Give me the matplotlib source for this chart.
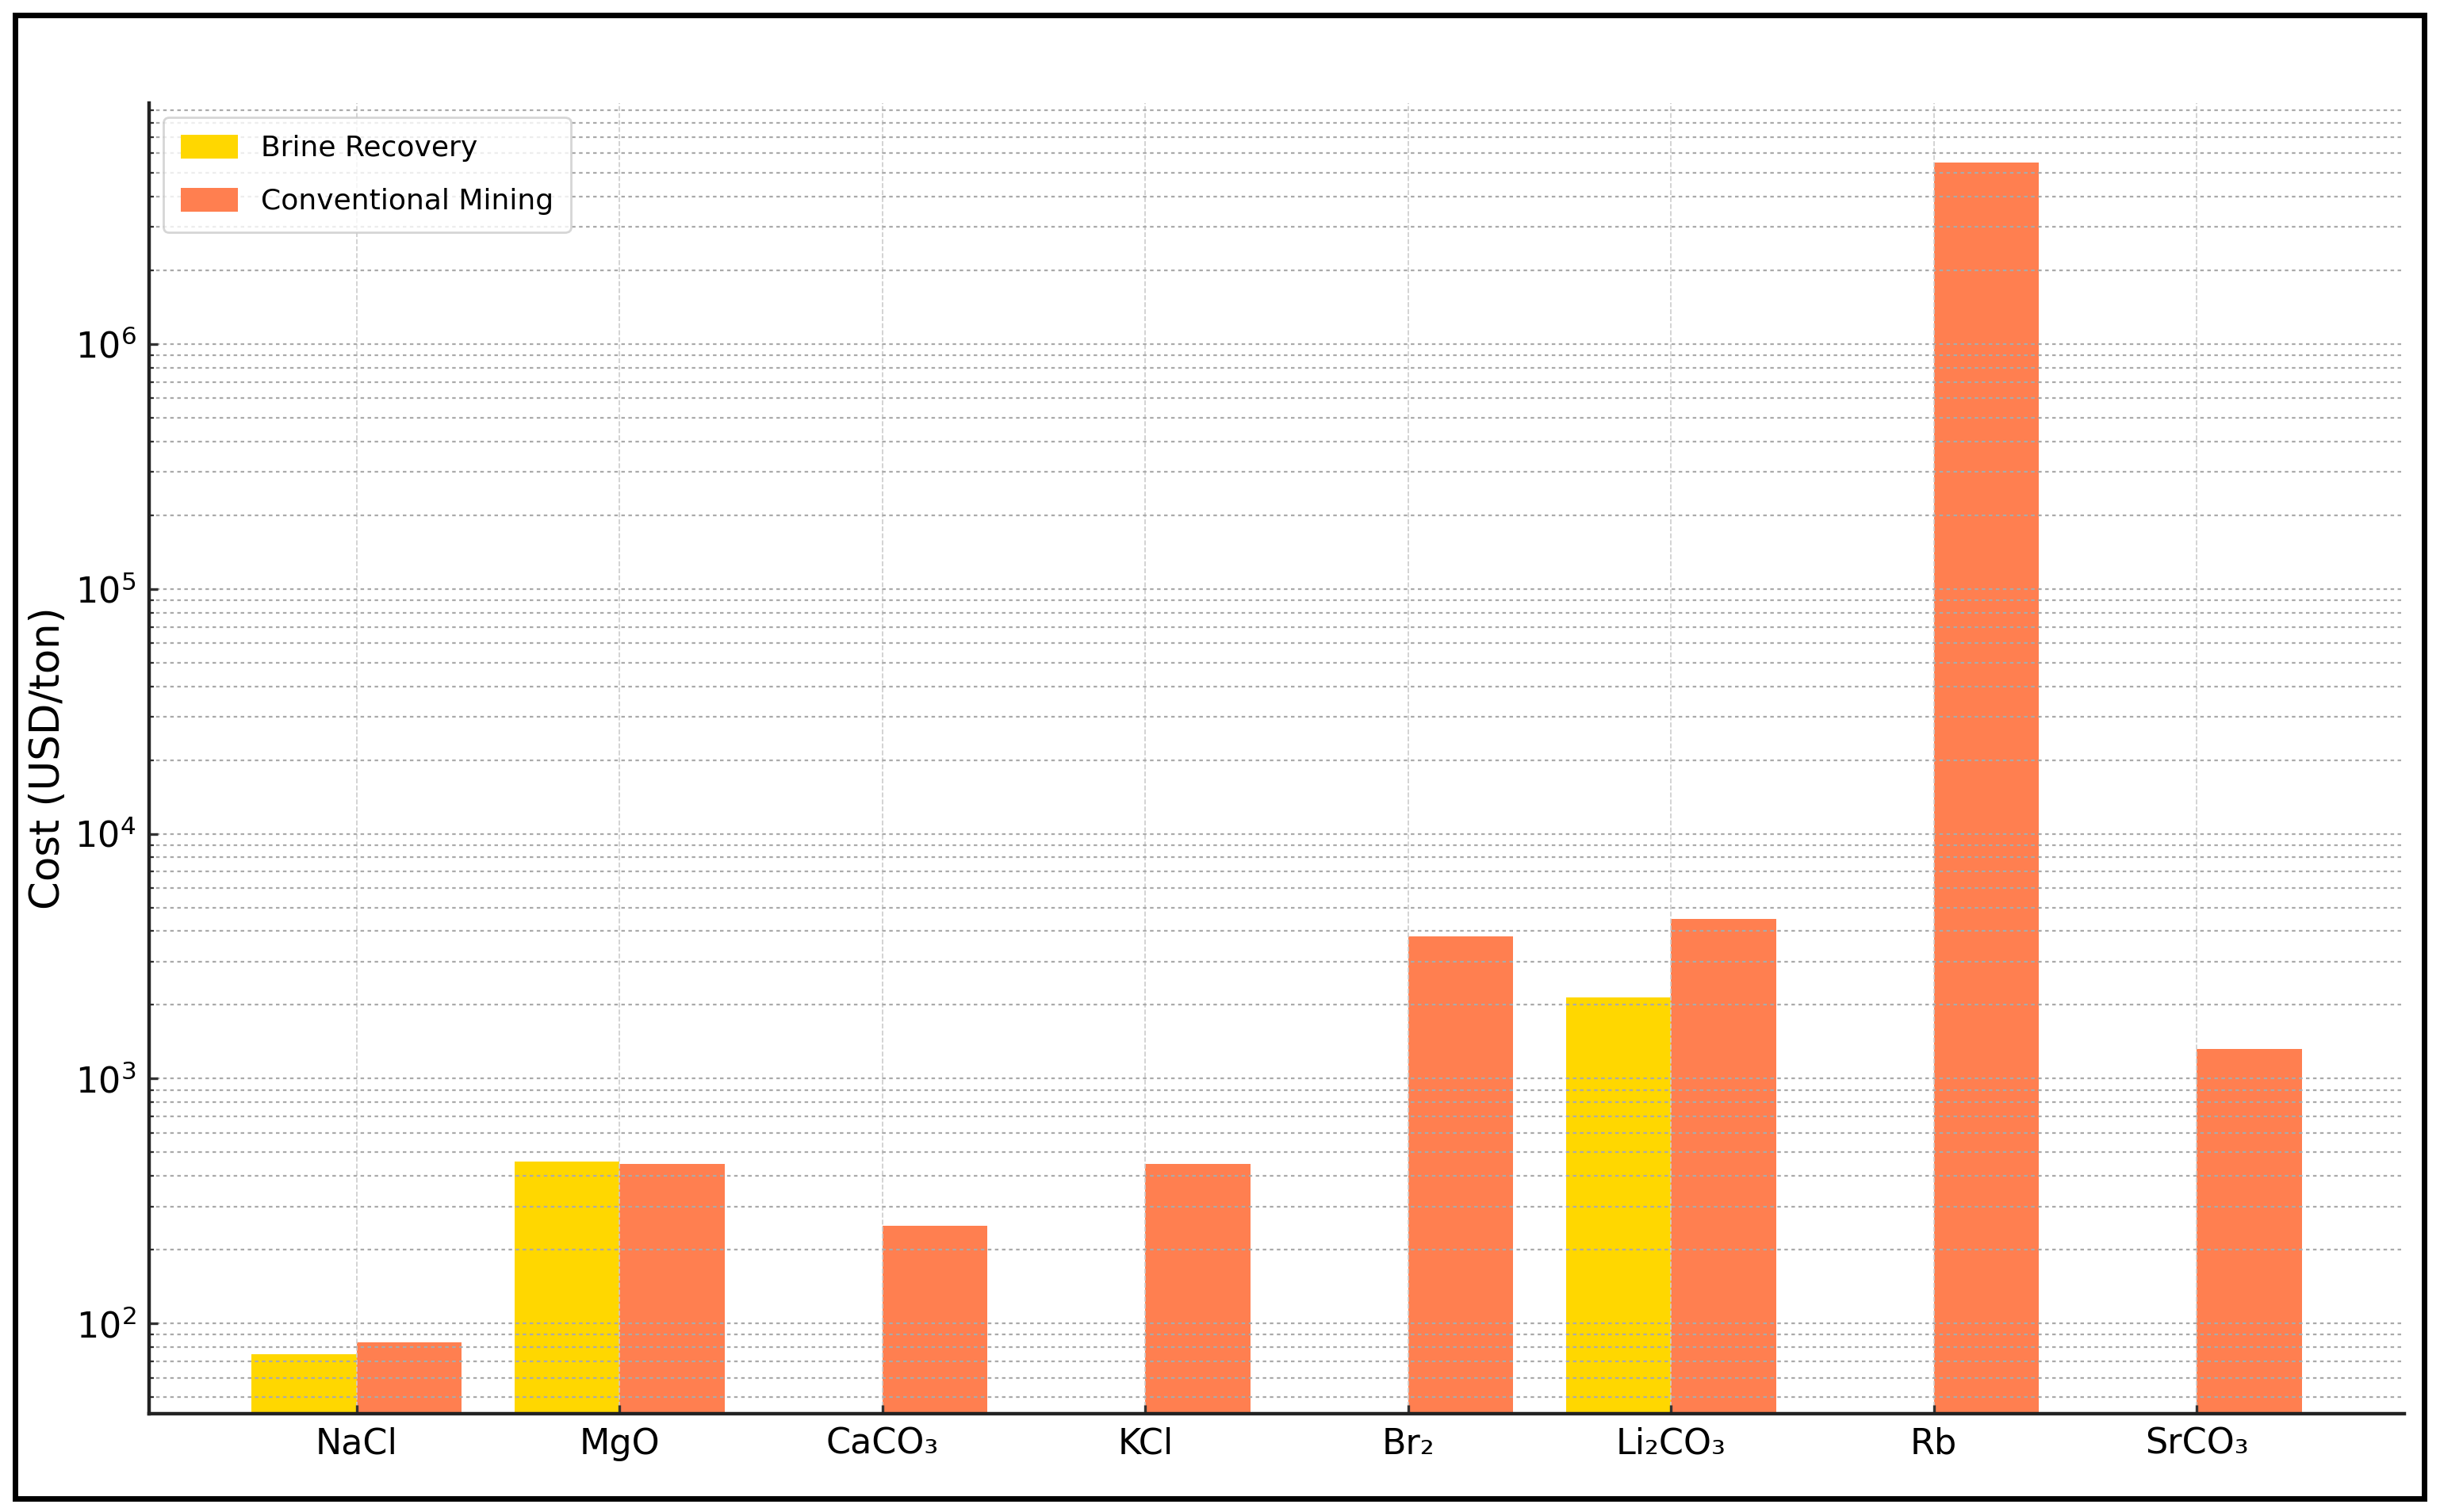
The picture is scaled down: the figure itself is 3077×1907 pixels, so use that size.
import matplotlib
matplotlib.use('Agg')
import matplotlib.pyplot as plt
import numpy as np
from matplotlib.patches import Rectangle

categories = ['NaCl', 'MgO', 'CaCO₃', 'KCl', 'Br₂', 'Li₂CO₃', 'Rb', 'SrCO₃']
brine_recovery = [75, 460, np.nan, np.nan, np.nan, 2150, np.nan, np.nan]
conventional_mining = [84, 450, 250, 450, 3800, 4500, 5.5e6, 1320]
series_labels = ['Brine Recovery', 'Conventional Mining']
series_colors = ['#FFD700', '#FF7F50']
y_label = 'Cost (USD/ton)'

plt.rcParams['font.family'] = ['DejaVu Sans']

W, H, DPI = 3077, 1907, 200
fig = plt.figure(figsize=(W / DPI, H / DPI), dpi=DPI)
ax = fig.add_axes([188 / W, 1 - 1783 / H, (3032 - 188) / W, (1783 - 130) / H])

x = np.arange(len(categories))
width = 0.4
ax.bar(x - width / 2, brine_recovery, width, color=series_colors[0], label=series_labels[0])
ax.bar(x + width / 2, conventional_mining, width, color=series_colors[1], label=series_labels[1])

ax.set_yscale('log')
vals = np.array([v for v in brine_recovery + conventional_mining if not np.isnan(v)])
lo, hi = np.log10(vals.min()), np.log10(vals.max())
m = 0.05 * (hi - lo)
ax.set_ylim(10 ** (lo - m), 10 ** (hi + m))
ax.set_xlim(-0.4 - 0.39, len(categories) - 1 + 0.4 + 0.39)

ax.set_xticks(x)
ax.set_xticklabels(categories, fontsize=16)
ax.tick_params(axis='y', which='major', labelsize=16)
ax.tick_params(which='both', direction='in', color='#333333')
ax.tick_params(which='major', length=4, width=1.2, pad=6)
ax.tick_params(which='minor', length=2, width=0.8)
ax.set_ylabel(y_label, fontsize=18.5, labelpad=3)

ax.yaxis.grid(True, which='both', linestyle=(0, (2, 2)), linewidth=0.8, color='#aaaaaa')
ax.xaxis.grid(True, which='major', linestyle='--', linewidth=0.6, color='#cccccc')

for s in ['top', 'right']:
    ax.spines[s].set_visible(False)
for s in ['left', 'bottom']:
    ax.spines[s].set_linewidth(1.6)
    ax.spines[s].set_color('#222222')

ax.legend(loc='upper left', fontsize=13, labelspacing=0.9, handleheight=0.9,
          borderpad=0.6)

fig.patches.append(Rectangle((19 / W, 17 / H), (3057 - 19) / W, (1890 - 19) / H,
                             transform=fig.transFigure, fill=False, lw=2.5, ec='black'))

fig.savefig('out.png', dpi=DPI)
